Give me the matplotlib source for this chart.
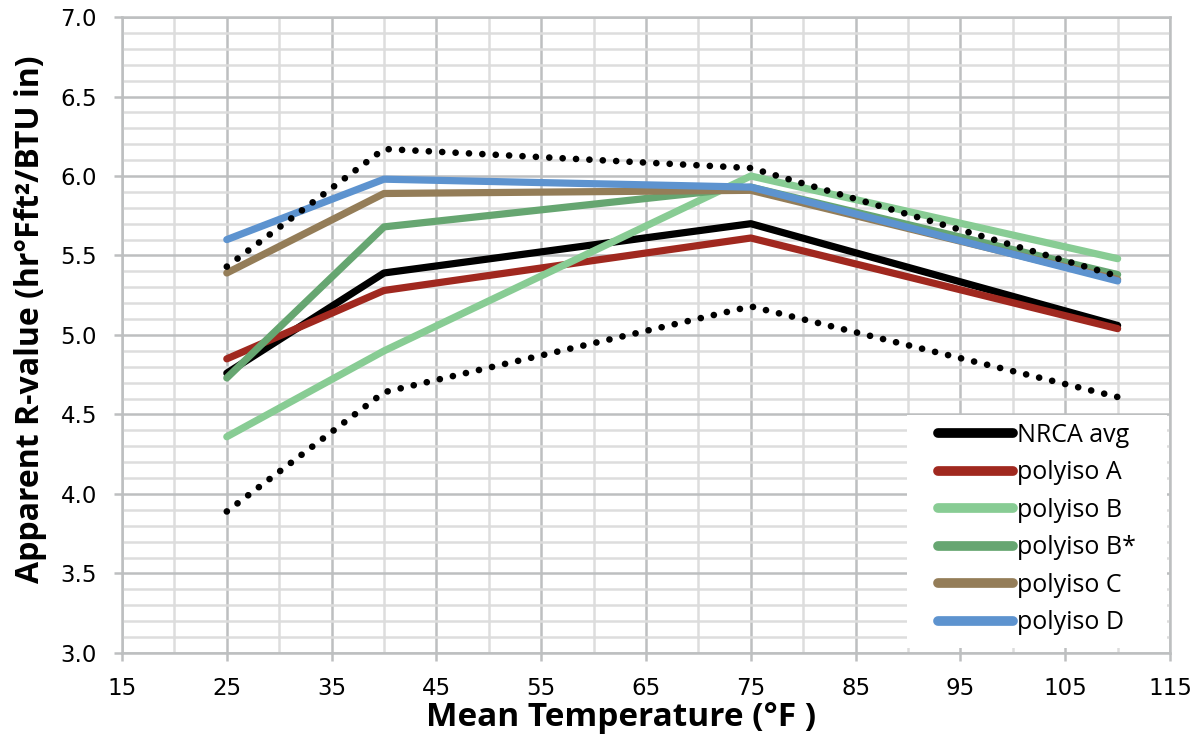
import matplotlib
matplotlib.use("Agg")
import matplotlib.pyplot as plt
from matplotlib.ticker import MultipleLocator
from matplotlib.patches import Rectangle

temps = [25, 40, 75, 110]

nrca_avg = [4.76, 5.39, 5.70, 5.06]
polyiso_a = [4.85, 5.28, 5.61, 5.04]
polyiso_b = [4.36, 4.90, 6.00, 5.48]
polyiso_b_star = [4.73, 5.68, 5.93, 5.38]
polyiso_c = [5.39, 5.89, 5.91, 5.35]
polyiso_d = [5.60, 5.98, 5.93, 5.34]
nrca_upper = [5.43, 6.17, 6.05, 5.37]
nrca_lower = [3.89, 4.64, 5.18, 4.61]

series = [
    ("NRCA avg", nrca_avg, "#000000"),
    ("polyiso A", polyiso_a, "#A0281F"),
    ("polyiso B", polyiso_b, "#88CC94"),
    ("polyiso B*", polyiso_b_star, "#66A671"),
    ("polyiso C", polyiso_c, "#947D58"),
    ("polyiso D", polyiso_d, "#5D93CF"),
]

fig = plt.figure(figsize=(12.02, 7.46), dpi=100)
ax = fig.add_axes([0.1015, 0.1247, 0.8719, 0.8525])

for label, vals, col in series:
    ax.plot(temps, vals, color=col, lw=5.2, label=label, solid_capstyle="round", zorder=3)

# NRCA range (not in legend)
for vals in (nrca_upper, nrca_lower):
    ax.plot(temps, vals, color="black", lw=4.8, ls=(0, (0.01, 2.0)),
            dash_capstyle="round", zorder=4)

ax.set_xlim(15, 115)
ax.set_ylim(3.0, 7.0)
ax.xaxis.set_major_locator(MultipleLocator(10, offset=5))
ax.xaxis.set_minor_locator(MultipleLocator(5))
ax.yaxis.set_major_locator(MultipleLocator(0.5))
ax.yaxis.set_minor_locator(MultipleLocator(0.1))
ax.yaxis.set_major_formatter(plt.FormatStrFormatter("%.1f"))

ax.grid(which="major", color="#BDBFC0", lw=1.8, zorder=0)
ax.grid(which="minor", color="#DDDDDD", lw=1.8, zorder=0)
ax.set_axisbelow(True)

for s in ax.spines.values():
    s.set_color("#BDBFC0")
    s.set_linewidth(1.8)

ax.tick_params(which="major", length=6, width=1.8, color="#BDBFC0", labelsize=16.5)
ax.tick_params(axis="x", pad=11)
ax.tick_params(axis="y", pad=12)
ax.tick_params(which="minor", length=0)

ax.set_xlabel("Mean Temperature (°F )", fontsize=24, fontweight="bold", family="Open Sans")
ax.set_ylabel("Apparent R-value (hr°Fft²/BTU in)", fontsize=23, fontweight="bold",
              family="Open Sans")
ax.xaxis.set_label_coords(0.4766, -0.075)
ax.yaxis.set_label_coords(-0.072, 0.524)

# white legend box
ax.add_patch(Rectangle((0.749, 0.008), 0.248, 0.366, transform=ax.transAxes,
                       facecolor="white", edgecolor="none", zorder=2.5))

leg = ax.legend(loc="upper left", bbox_to_anchor=(0.7786, 0.362), frameon=False,
                prop={"family": "Open Sans", "size": 18}, handlelength=3.0,
                handletextpad=0.15, labelspacing=0.5, borderpad=0,
                borderaxespad=0)
for h in leg.get_lines():
    h.set_linewidth(7)
    h.set_solid_capstyle("round")

fig.savefig("out.png", dpi=100)
